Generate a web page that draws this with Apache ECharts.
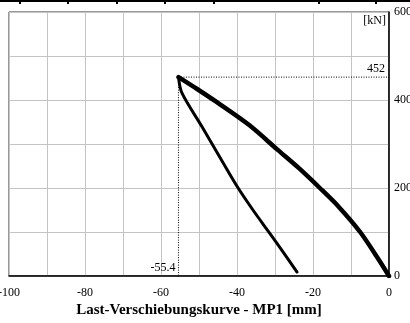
<!DOCTYPE html>
<html>
<head>
<meta charset="utf-8">
<script src="https://cdn.jsdelivr.net/npm/echarts@6/dist/echarts.min.js"></script>
<style>html,body{margin:0;padding:0;background:#fff;}#c{width:410px;height:323px;}</style>
</head>
<body>
<div id="c"></div>
<script>
// Loading branch (displacement mm, load kN)
var loadX = [0, -2.6, -7.6, -13.2, -18.2, -23.7, -29.2, -36.8, -45.3, -50.5, -55.4];
var loadY = [0, 36, 100, 157, 200, 245, 286, 343, 395, 425, 452];
// Unloading branch
var unloadX = [-55.4, -54.5, -49.2, -43.9, -39.7, -35.8, -31.8, -27.9, -24.2];
var unloadY = [452, 416, 339, 261, 200, 150, 102, 55, 9];
// Peak annotation
var peakX = -55.4;
var peakY = 452;
var xTicks = [-100, -80, -60, -40, -20, 0];
var yTicks = [0, 200, 400, 600];
var xTitle = 'Last-Verschiebungskurve - MP1 [mm]';
var yUnit = '[kN]';

function zip(a, b) { return a.map(function (v, i) { return [v, b[i]]; }); }

var chart = echarts.init(document.getElementById('c'));
var serif = 'Liberation Serif, Times New Roman, serif';
chart.setOption({
  animation: false,
  backgroundColor: '#fff',
  grid: { left: 9, right: 21, top: 12, bottom: 47, show: true, borderColor: '#333', borderWidth: 1,
          containLabel: false, outerBoundsMode: 'none' },
  xAxis: {
    type: 'value', min: -100, max: 0, interval: 10,
    axisLine: { show: true, onZero: false, lineStyle: { color: '#000', width: 1.5 } },
    axisTick: { show: false },
    splitLine: { show: true, lineStyle: { color: '#c4c4c4', width: 1 } },
    axisLabel: {
      color: '#000', fontFamily: serif, fontSize: 12, margin: 11, hideOverlap: false,
      formatter: function (v) { return xTicks.indexOf(v) >= 0 ? String(v) : ''; }
    }
  },
  yAxis: {
    type: 'value', position: 'right', min: 0, max: 600, interval: 100,
    axisLine: { show: true, onZero: false, lineStyle: { color: '#000', width: 1.5 } },
    axisTick: { show: false },
    splitLine: { show: true, lineStyle: { color: '#c4c4c4', width: 1 } },
    axisLabel: {
      color: '#000', fontFamily: serif, fontSize: 12, margin: 5,
      formatter: function (v) { return yTicks.indexOf(v) >= 0 ? String(v) : ''; }
    }
  },
  series: [
    { type: 'line', data: [[peakX, peakY], [0, peakY]], symbol: 'none', silent: true,
      lineStyle: { color: '#000', width: 1, type: [1, 1.5] } },
    { type: 'line', data: [[peakX, peakY], [peakX, 0]], symbol: 'none', silent: true,
      lineStyle: { color: '#000', width: 1, type: [1, 1.5] } },
    { type: 'line', data: zip(loadX, loadY), symbol: 'none', smooth: 0.3,
      lineStyle: { color: '#000', width: 4.5, cap: 'round', join: 'round' } },
    { type: 'line', data: zip(unloadX, unloadY), symbol: 'none', smooth: 0.3,
      lineStyle: { color: '#000', width: 3, cap: 'round', join: 'round' } }
  ]
});

var pRight = chart.convertToPixel({ gridIndex: 0 }, [0, peakY]);
var pBottom = chart.convertToPixel({ gridIndex: 0 }, [peakX, 0]);
var pTop = chart.convertToPixel({ gridIndex: 0 }, [0, 600]);
chart.setOption({
  graphic: [
    { type: 'rect', shape: { x: 0, y: 0, width: 410, height: 2 }, style: { fill: '#000' } },
    { type: 'rect', shape: { x: 19, y: 0, width: 2, height: 4 }, style: { fill: '#000' } },
    { type: 'rect', shape: { x: 67, y: 0, width: 2, height: 4 }, style: { fill: '#000' } },
    { type: 'rect', shape: { x: 116, y: 0, width: 2, height: 4 }, style: { fill: '#000' } },
    { type: 'rect', shape: { x: 164, y: 0, width: 2, height: 4 }, style: { fill: '#000' } },
    { type: 'rect', shape: { x: 213, y: 0, width: 2, height: 4 }, style: { fill: '#000' } },
    { type: 'rect', shape: { x: 318, y: 0, width: 2, height: 4 }, style: { fill: '#000' } },
    { type: 'rect', shape: { x: 375, y: 0, width: 2, height: 4 }, style: { fill: '#000' } },
    { type: 'text', x: pRight[0] - 4, y: pRight[1] - 2,
      style: { text: String(peakY), fill: '#000', font: '12px ' + serif, textAlign: 'right', textVerticalAlign: 'bottom' } },
    { type: 'text', x: pBottom[0] - 3, y: pBottom[1] - 2,
      style: { text: String(peakX), fill: '#000', font: '12px ' + serif, textAlign: 'right', textVerticalAlign: 'bottom' } },
    { type: 'text', x: pTop[0] - 3, y: pTop[1] + 3,
      style: { text: yUnit, fill: '#000', font: '12px ' + serif, textAlign: 'right', textVerticalAlign: 'top' } },
    { type: 'text', x: 199, y: 310,
      style: { text: xTitle, fill: '#000', font: 'bold 15px ' + serif, textAlign: 'center', textVerticalAlign: 'middle' } }
  ]
});
</script>
</body>
</html>
